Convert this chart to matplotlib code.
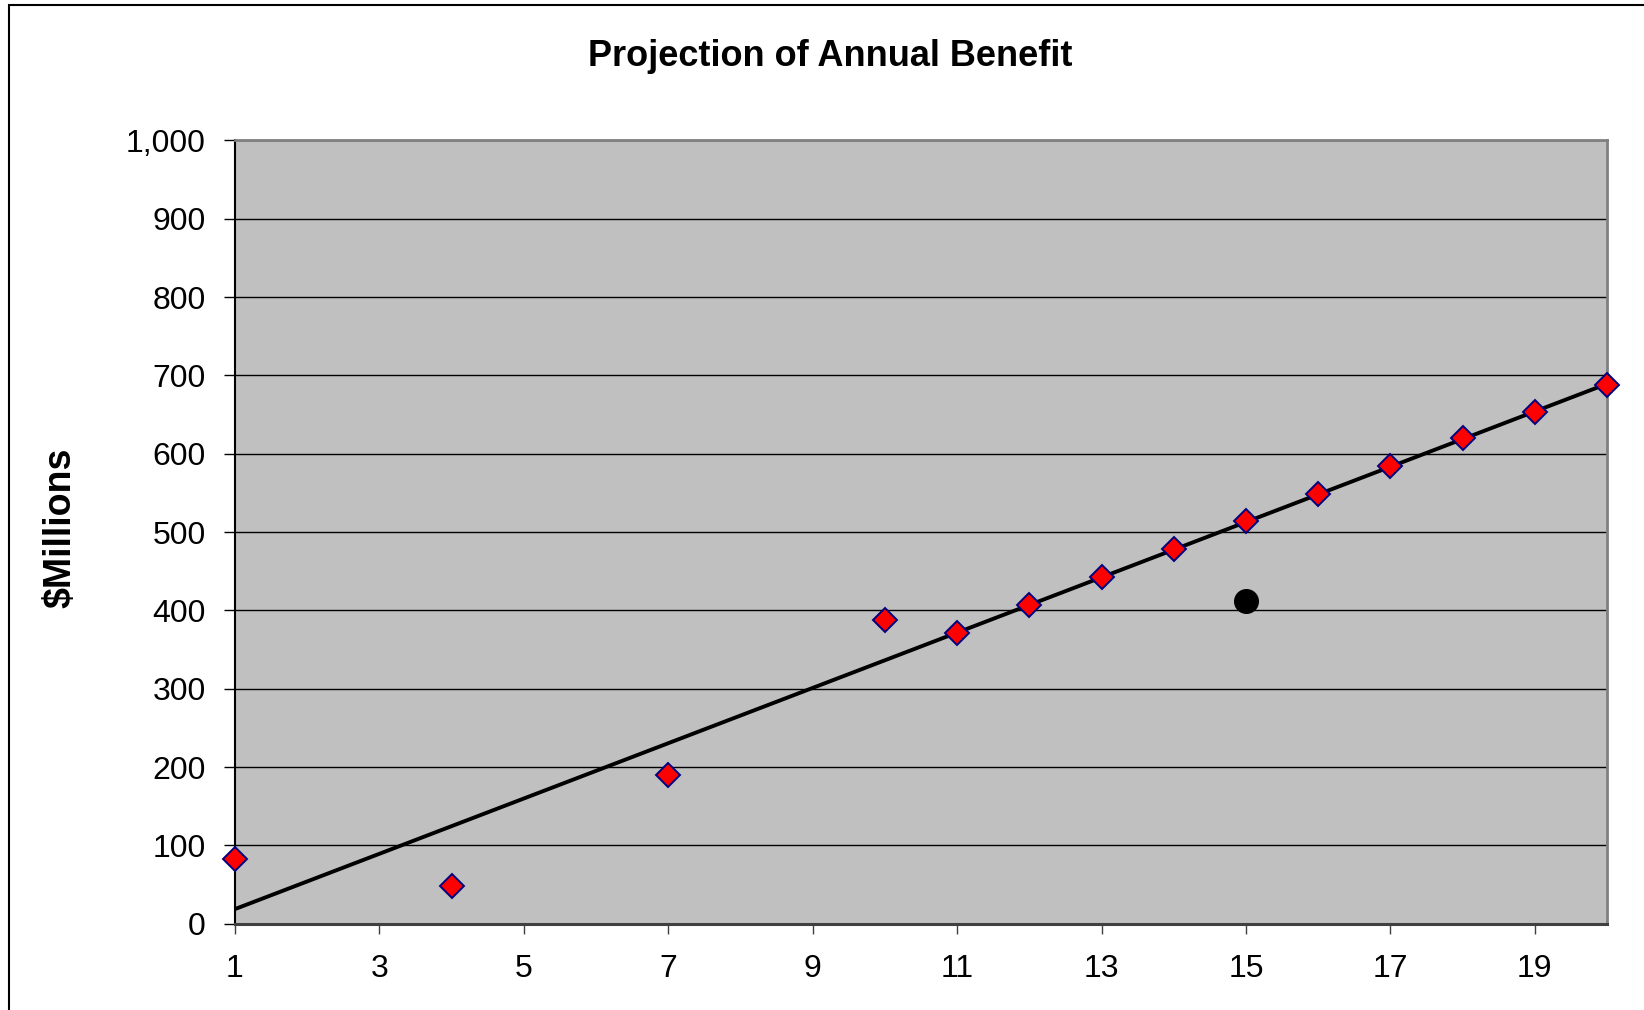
import matplotlib
matplotlib.use("Agg")
import matplotlib.pyplot as plt
import matplotlib.ticker as mticker
from matplotlib.patches import Rectangle
import numpy as np

plt.rcParams["font.family"] = ["Liberation Sans", "DejaVu Sans"]

# projected annual benefit ($ millions) by year
years = [1, 4, 7, 10, 11, 12, 13, 14, 15, 16, 17, 18, 19, 20]
benefit = [83, 48, 190, 388, 371, 407, 442, 478, 514, 548, 584, 620, 653, 688]

# single actual value shown against the projection
actual_year = [15]
actual_benefit = [412]

x_ticks = [1, 3, 5, 7, 9, 11, 13, 15, 17, 19]
y_ticks = [0, 100, 200, 300, 400, 500, 600, 700, 800, 900, 1000]

fig = plt.figure(figsize=(16.44, 10.10), dpi=100)
ax = fig.add_axes([0.1429, 0.0855, 0.8346, 0.7754])
ax.set_facecolor("#C0C0C0")

# outer chart frame (only top/left edges fall inside the image)
fig.patches.append(Rectangle((9 / 1644, -0.5), 2, 1.5 - 5 / 1010,
                             transform=fig.transFigure, fill=False,
                             edgecolor="black", linewidth=1.5, zorder=0))

# linear trend through the projection points
coef = np.polyfit(years, benefit, 1)
trend_x = np.array([years[0], years[-1]])
ax.plot(trend_x, np.polyval(coef, trend_x), color="black", lw=2.8, zorder=3)

ax.plot(years, benefit, linestyle="none", marker="D", markersize=12.5,
        markerfacecolor="#FF0000", markeredgecolor="#000080",
        markeredgewidth=1.4, clip_on=False, zorder=4)
ax.plot(actual_year, actual_benefit, linestyle="none", marker="o",
        markersize=17, color="black", zorder=4)

ax.set_xlim(1, 20)
ax.set_ylim(0, 1000)
ax.set_xticks(x_ticks)
ax.set_yticks(y_ticks)
ax.yaxis.set_major_formatter(mticker.FuncFormatter(lambda v, p: f"{int(v):,}"))

ax.grid(axis="y", color="black", linewidth=1)
ax.set_axisbelow(True)

ax.spines["left"].set_color("black")
ax.spines["left"].set_linewidth(1.5)
ax.spines["bottom"].set_color("#404040")
ax.spines["bottom"].set_linewidth(2.2)
for s in ["top", "right"]:
    ax.spines[s].set_color("#808080")
    ax.spines[s].set_linewidth(2)

ax.tick_params(axis="y", direction="out", length=8, width=1, pad=13,
               labelsize=23, color="black")
ax.tick_params(axis="x", direction="out", length=7, width=1, pad=15,
               labelsize=23, color="#404040")

fig.text(0.505, 0.944, "Projection of Annual Benefit", ha="center",
         va="center", fontsize=26, fontweight="bold")
fig.text(0.037, 0.477, "$Millions", ha="center", va="center",
         rotation=90, fontsize=27, fontweight="bold")

fig.savefig("out.png", dpi=100)
